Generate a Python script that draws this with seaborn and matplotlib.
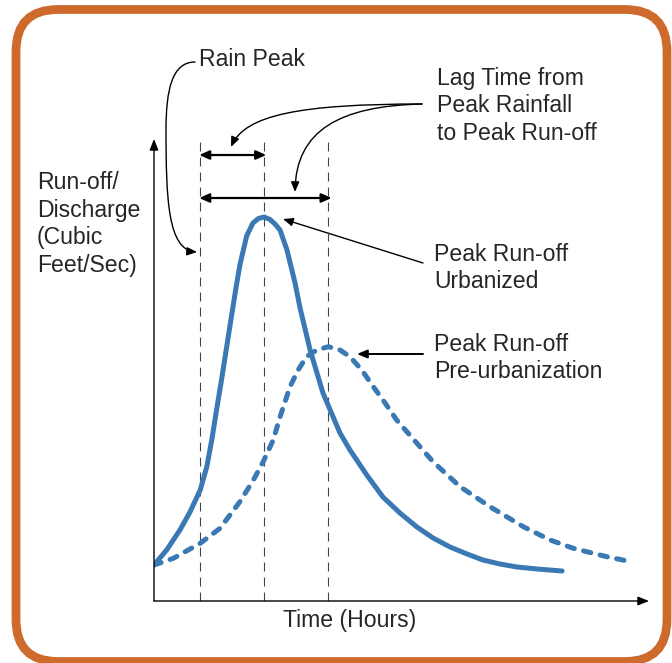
import numpy as np
import pandas as pd
import matplotlib
matplotlib.use("Agg")
import matplotlib.pyplot as plt
import seaborn as sns
from matplotlib.patches import FancyBboxPatch, FancyArrowPatch
from matplotlib.path import Path

# Hydrograph data (time in hours, discharge in cubic feet/sec)
time_urban = [0.00, 0.58, 1.19, 1.65, 2.12, 2.42, 2.65, 2.87, 3.11, 3.49, 3.76, 3.94,
              4.25, 4.54, 4.79, 5.05, 5.32, 5.55, 5.78, 6.10, 6.47, 6.70, 7.16, 7.75,
              8.53, 8.99, 9.76, 10.50, 11.28, 12.06, 12.80, 13.58, 14.36, 15.09, 15.87,
              16.65, 17.57, 18.72]
flow_urban = [3.6, 5.1, 7.1, 8.9, 11.1, 13.4, 16.1, 19.1, 22.3, 27.6, 31.3, 33.6,
              36.5, 37.8, 38.25, 38.4, 38.15, 37.7, 37.1, 35.1, 31.8, 29.3, 25.1, 20.8,
              16.8, 15.1, 12.6, 10.4, 8.8, 7.4, 6.3, 5.4, 4.7, 4.1, 3.7,
              3.4, 3.2, 3.0]

time_pre = [0.00, 0.89, 2.12, 3.03, 3.94, 4.56, 5.01, 5.47, 5.78, 6.24, 6.61, 7.00,
            7.46, 8.00, 8.53, 8.99, 9.53, 10.06, 10.60, 11.13, 12.20, 12.81, 14.04,
            15.41, 16.94, 18.17, 19.23, 20.77, 21.65]
flow_pre = [3.6, 4.27, 5.77, 7.27, 9.93, 12.1, 13.93, 16.1, 18.4, 21.43, 23.1, 24.43,
            25.1, 25.43, 25.1, 24.43, 23.1, 21.43, 19.8, 18.1, 15.43, 13.9, 11.43,
            9.43, 7.43, 6.1, 5.27, 4.43, 4.03]

rain_peak_time = 2.12

urban = pd.DataFrame({"time": time_urban, "flow": flow_urban})
pre = pd.DataFrame({"time": time_pre, "flow": flow_pre})
urban_peak_time = urban.loc[urban["flow"].idxmax(), "time"]
pre_peak_time = pre.loc[pre["flow"].idxmax(), "time"]

sns.set_theme(style="white")
plt.rcParams["font.family"] = ["Liberation Sans", "DejaVu Sans"]

BLUE = "#3a79b3"
ORANGE = "#cd6a2c"
W, H = 672, 663

fig = plt.figure(figsize=(W / 100, H / 100), dpi=100)

# background axes in pixel units for frame, labels and callouts
bg = fig.add_axes([0, 0, 1, 1])
bg.set_xlim(0, W)
bg.set_ylim(H, 0)
bg.axis("off")

frame = FancyBboxPatch((16, 9.5), 651, 652, boxstyle="round,pad=0,rounding_size=42",
                       fill=False, ec=ORANGE, lw=6.3)
bg.add_patch(frame)

# main plot axes
ax = fig.add_axes([154 / W, (H - 601) / H, (649 - 154) / W, (601 - 139) / H])
ax.patch.set_alpha(0)
ax.set_xlim(0, 22.706)
ax.set_ylim(0, 46.2)
for s in ax.spines.values():
    s.set_visible(False)
ax.set_xticks([])
ax.set_yticks([])

sns.lineplot(data=urban, x="time", y="flow", ax=ax, color=BLUE, lw=3.6,
             solid_capstyle="round", solid_joinstyle="round")
sns.lineplot(data=pre, x="time", y="flow", ax=ax, color=BLUE, lw=3.6,
             linestyle=(0, (1.5, 1.9)), dash_capstyle="round", dash_joinstyle="round")
ax.set_xlabel("")
ax.set_ylabel("")

for t in [rain_peak_time, urban_peak_time, pre_peak_time]:
    ax.axvline(t, color="#444444", lw=0.8, dashes=(8, 5.5), zorder=0)

axis_arrow = dict(arrowstyle="-|>,head_length=0.55,head_width=0.22", mutation_scale=12,
                  lw=1.0, color="black", shrinkA=0, shrinkB=0)
ax.annotate("", xy=(1, 0), xytext=(0, 0), xycoords="axes fraction", arrowprops=axis_arrow)
ax.annotate("", xy=(0, 1), xytext=(0, 0), xycoords="axes fraction", arrowprops=axis_arrow)

lag_arrow = dict(arrowstyle="<|-|>,head_length=0.5,head_width=0.22", mutation_scale=12,
                 lw=1.6, color="black", shrinkA=0, shrinkB=0)
ax.annotate("", xy=(urban_peak_time + 0.1, 44.6), xytext=(rain_peak_time - 0.05, 44.6),
            arrowprops=lag_arrow)
ax.annotate("", xy=(pre_peak_time + 0.15, 40.3), xytext=(rain_peak_time - 0.05, 40.3),
            arrowprops=lag_arrow)

# text labels
fs = 16.6
bg.text(199, 59, "Rain Peak", fontsize=fs, ha="left", va="center")
bg.text(437, 106, "Lag Time from\nPeak Rainfall\nto Peak Run-off", fontsize=fs,
        ha="left", va="center", linespacing=1.25)
bg.text(37, 224, "Run-off/\nDischarge\n(Cubic\nFeet/Sec)", fontsize=fs,
        ha="left", va="center", linespacing=1.25)
bg.text(434, 268, "Peak Run-off\nUrbanized", fontsize=fs, ha="left", va="center",
        linespacing=1.25)
bg.text(434, 358, "Peak Run-off\nPre-urbanization", fontsize=fs, ha="left", va="center",
        linespacing=1.25)
bg.text(350, 620, "Time (Hours)", fontsize=fs, ha="center", va="center")

# callout arrows
thin = "-|>,head_length=0.6,head_width=0.25"
C4 = [Path.MOVETO, Path.CURVE4, Path.CURVE4, Path.CURVE4,
      Path.CURVE4, Path.CURVE4, Path.CURVE4]
rain_path = Path([(195, 62), (172, 62), (166, 90), (166, 130),
                  (166, 200), (168, 250), (197, 252)], C4)
lag1 = Path([(422, 104), (300, 104), (245, 115), (231, 147)], C4[:4])
lag2 = Path([(422, 104), (340, 106), (296, 130), (295, 192)], C4[:4])
for p in [rain_path, lag1, lag2]:
    bg.add_patch(FancyArrowPatch(path=p, arrowstyle=thin, mutation_scale=10,
                                 lw=1.0, color="black", zorder=3))

bg.annotate("", xy=(283, 219), xytext=(423, 263),
            arrowprops=dict(arrowstyle=thin, mutation_scale=10, lw=1.0, color="black",
                            shrinkA=0, shrinkB=0))
bg.annotate("", xy=(357, 354), xytext=(423, 354),
            arrowprops=dict(arrowstyle=thin, mutation_scale=10, lw=1.4, color="black",
                            shrinkA=0, shrinkB=0))

fig.savefig("out.png", dpi=100)
